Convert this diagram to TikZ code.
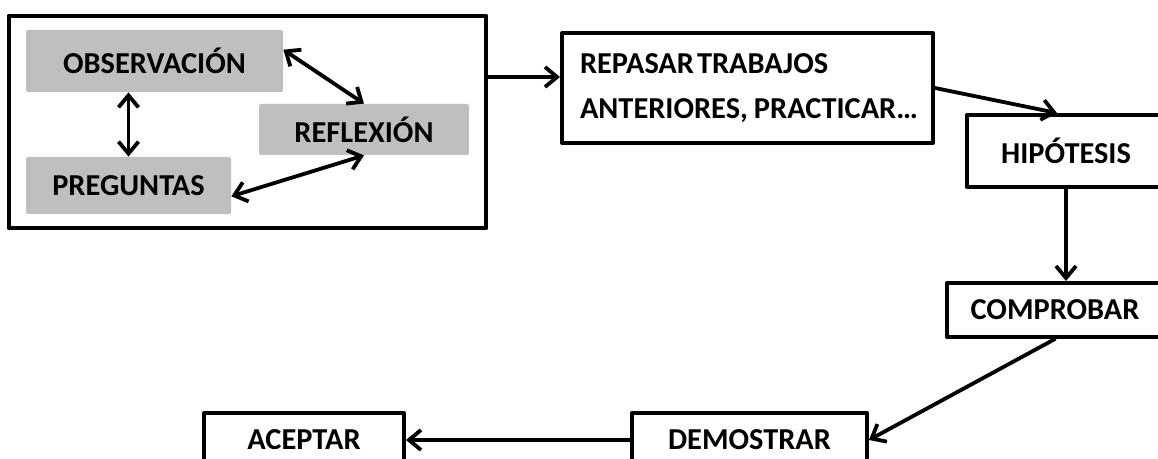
\documentclass[tikz,border=0pt]{standalone}
\usepackage{fontspec}
\setmainfont{Carlito}
\usetikzlibrary{arrows.meta,fit}
\definecolor{cajagris}{HTML}{BFBFBF}
\begin{document}
\begin{tikzpicture}[x=0.5pt,y=-0.5pt,font=\fontsize{15.2}{22.5}\selectfont\bfseries, line join=round, line cap=round, >={Straight Barb[length=6pt,width=10pt]},
	gris/.style={fill=cajagris, rounded corners=1pt, inner sep=0pt},
	caja/.style={draw, line width=2pt, inner sep=0pt},
	flecha/.style={line width=1.9pt}]
	\clip (0,0) rectangle (1158,459);
	% ciclo de la izquierda
	\node[gris, minimum width=128.5pt, minimum height=31pt] (obs) at (154.5,61) {OBSERVACIÓN};
	\node[gris, minimum width=105pt, minimum height=25.5pt] (refl) at (364,129.5) {REFLEXIÓN};
	\node[gris, minimum width=102.5pt, minimum height=28.5pt] (preg) at (128.5,185.5) {PREGUNTAS};
	\node[caja, fit=(obs)(refl)(preg), inner xsep=8.5pt, inner ysep=7pt] (marco) {};
	\draw[flecha,<->] (obs.5) -- (refl.north);
	\draw[flecha,<->] (preg.north |- obs.south) -- (preg.north);
	\draw[flecha,<->] (preg.-6) -- (refl.south);
	% pasos
	\node[caja, minimum width=185.5pt, minimum height=55pt, text width=167.5pt, align=left, inner xsep=9pt] (rep) at (747.5,88) {\mbox{REPASAR\hspace{1.5pt}TRABAJOS}\\\mbox{ANTERIORES,\hspace{3pt}PRACTICAR…}};
	\node[caja, minimum width=99pt, minimum height=36pt] (hip) at (1066,151) {HIPÓTESIS};
	\node[caja, minimum width=108pt, minimum height=27pt] (comp) at (1055,310) {COMPROBAR};
	\node[caja, minimum width=117.5pt, minimum height=27pt] (dem) at (749.5,440) {DEMOSTRAR};
	\node[caja, minimum width=100pt, minimum height=27pt] (ace) at (304,440) {ACEPTAR};
	\coordinate (r) at ([yshift=5.5pt]rep.west);
	\draw[flecha,->] (marco.east |- r) -- (r);
	\draw[flecha,->] (rep.east) -- ([xshift=-4.5pt]hip.north);
	\draw[flecha,->] (hip.south) -- (hip.south |- comp.north);
	\draw[flecha,->] (comp.south) -- (dem.east);
	\draw[flecha,->] (dem.west) -- (ace.east);
\end{tikzpicture}
\end{document}
